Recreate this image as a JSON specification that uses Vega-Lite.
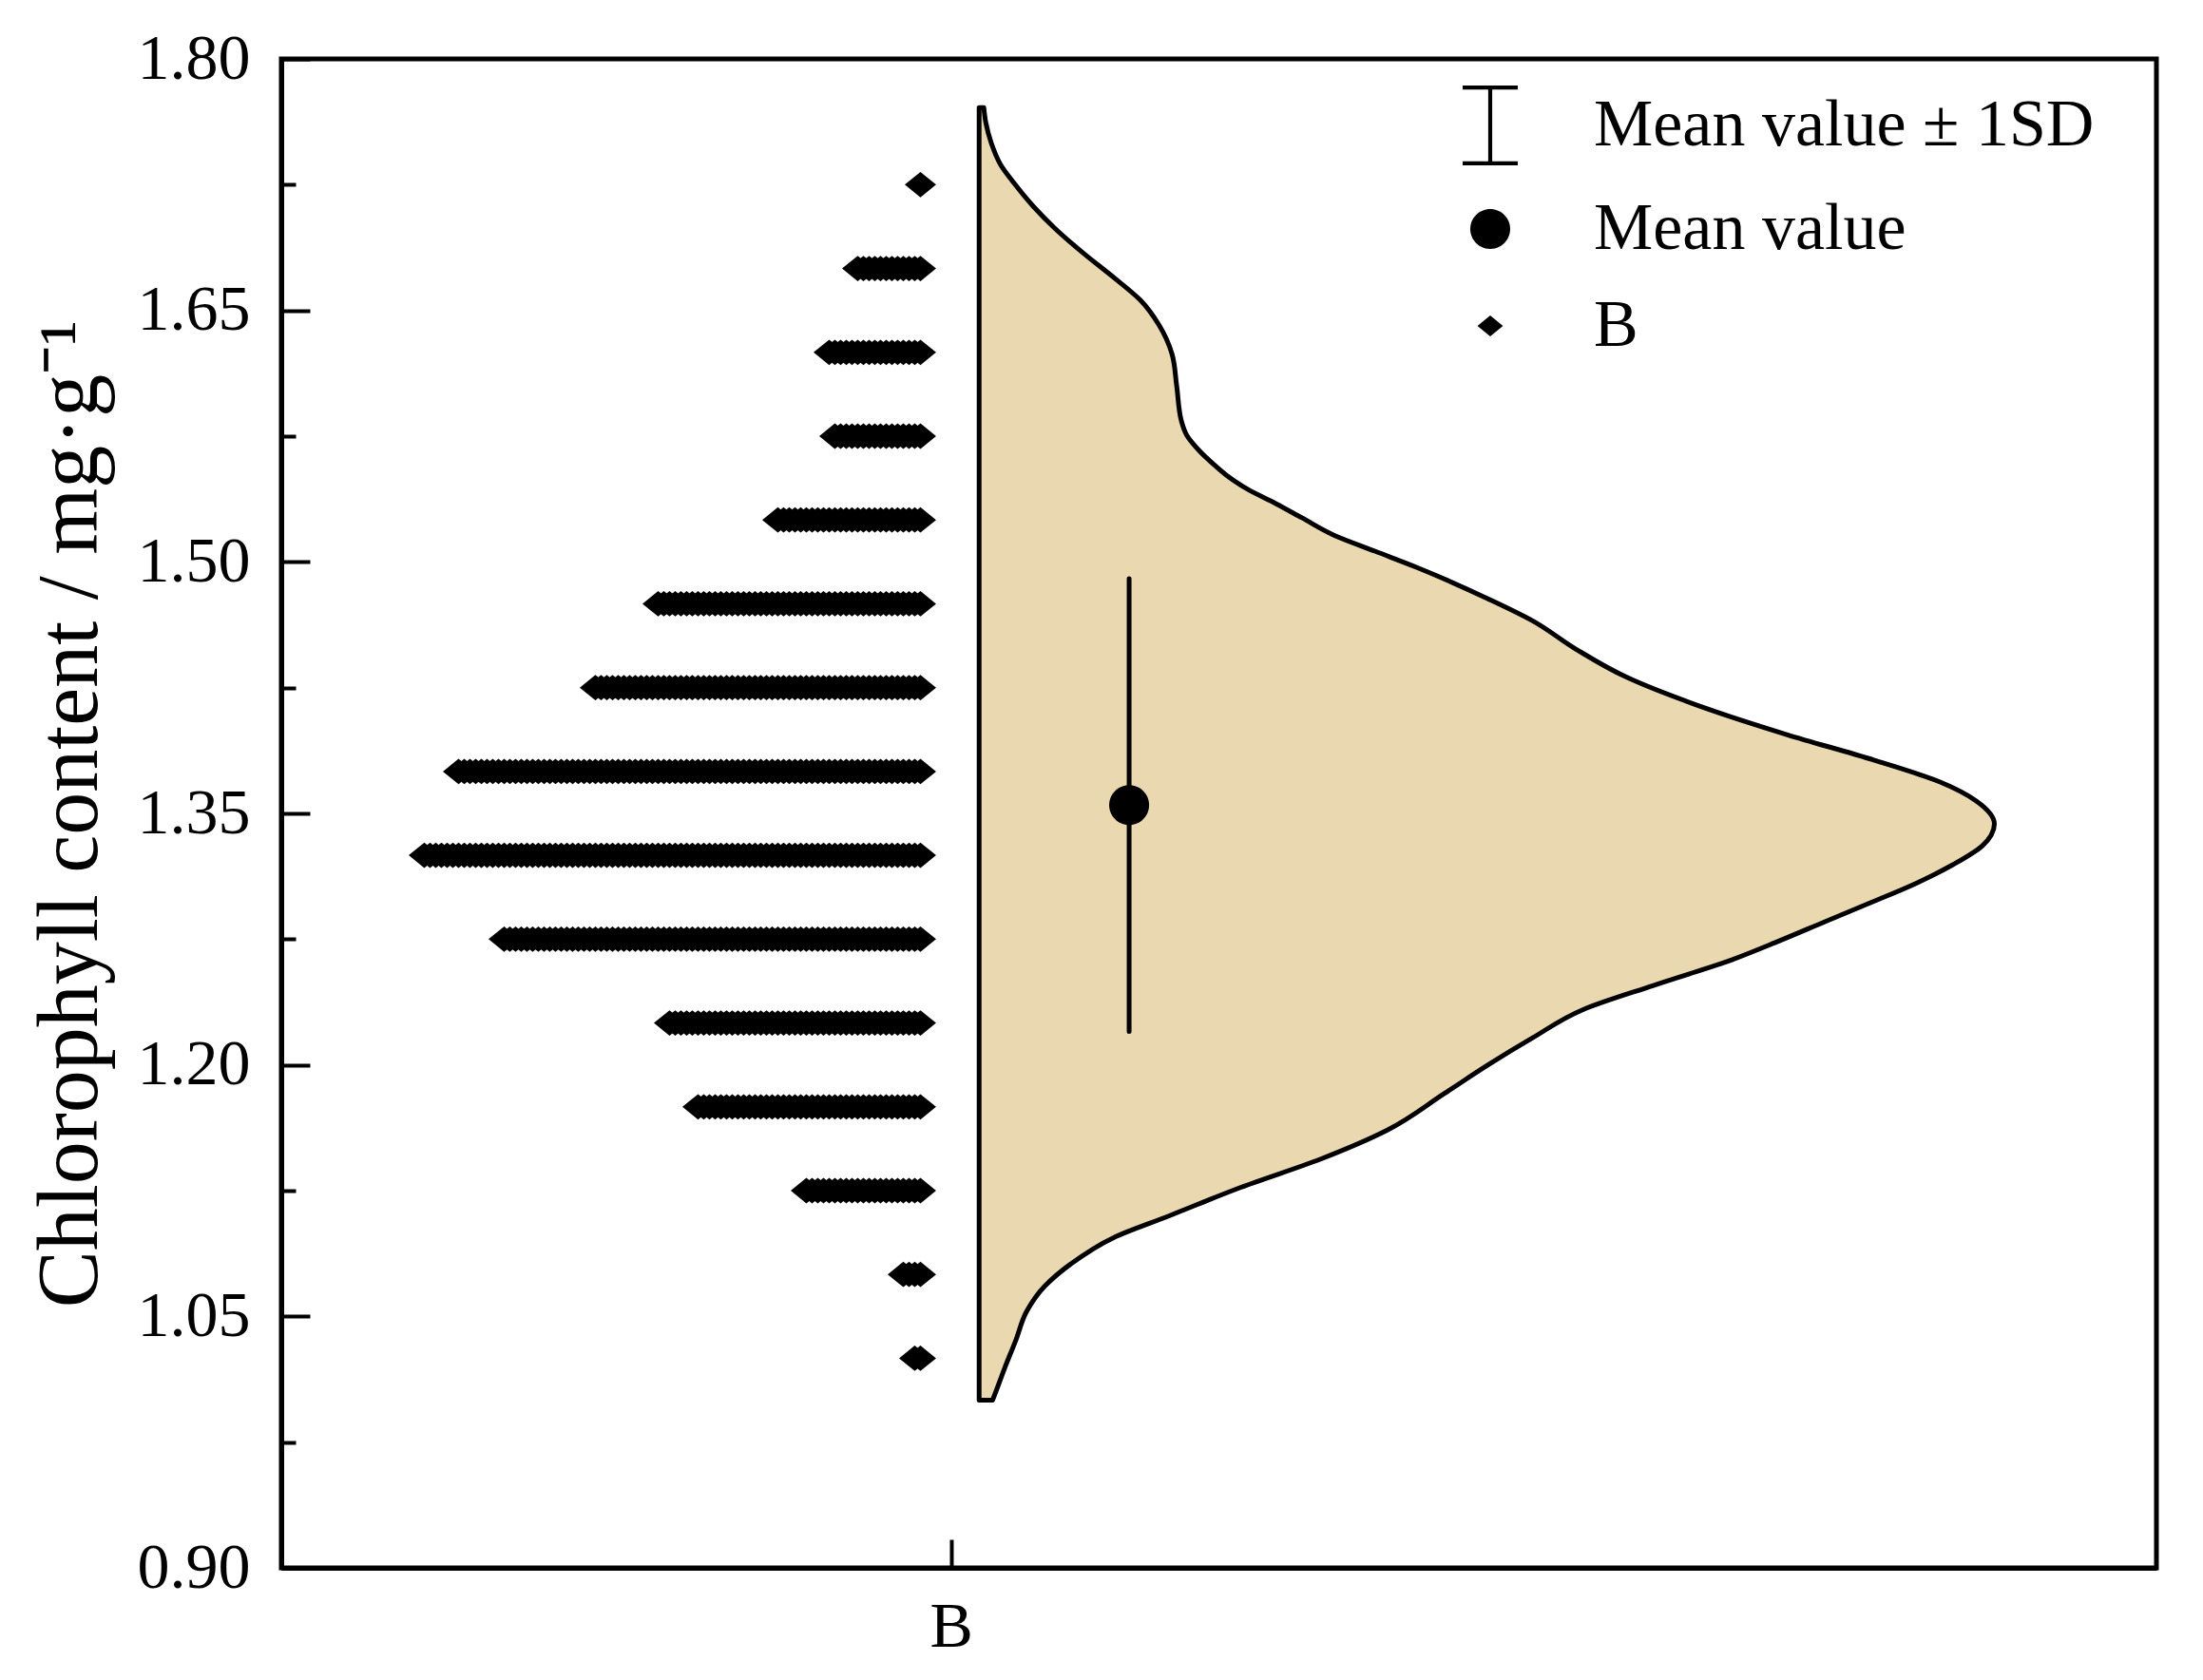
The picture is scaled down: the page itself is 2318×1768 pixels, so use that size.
{
  "$schema": "https://vega.github.io/schema/vega-lite/v6.json",
  "width": 1973,
  "height": 1588,
  "autosize": "none",
  "padding": {"left": 296, "top": 62, "right": 49, "bottom": 118},
  "background": "white",
  "config": {
    "font": "Liberation Serif",
    "view": {"stroke": "black", "strokeWidth": 5},
    "axis": {
      "domainColor": "black", "domainWidth": 5, "tickColor": "black", "tickWidth": 4,
      "labelColor": "black", "titleColor": "black", "labelFont": "Liberation Serif",
      "titleFont": "Liberation Serif", "labelFontSize": 68, "grid": false, "titleFontWeight": "normal"
    }
  },
  "resolve": {"scale": {"x": "independent", "y": "independent"}, "axis": {"x": "independent", "y": "independent"}},
  "layer": [
    {
      "data": {"values": [
        {"v":1.000,"x":1.062},{"v":1.002,"x":1.064},{"v":1.019,"x":1.080},{"v":1.036,"x":1.097},
        {"v":1.053,"x":1.113},{"v":1.068,"x":1.140},{"v":1.081,"x":1.178},{"v":1.097,"x":1.243},
        {"v":1.110,"x":1.326},{"v":1.127,"x":1.433},{"v":1.144,"x":1.553},{"v":1.161,"x":1.651},
        {"v":1.183,"x":1.737},{"v":1.200,"x":1.802},{"v":1.216,"x":1.868},{"v":1.233,"x":1.944},
        {"v":1.2474,"x":2.049},{"v":1.2627,"x":2.166},{"v":1.2740,"x":2.237},{"v":1.2854,"x":2.305},
        {"v":1.2967,"x":2.373},{"v":1.3081,"x":2.440},{"v":1.3194,"x":2.496},{"v":1.3307,"x":2.540},
        {"v":1.3438,"x":2.558},{"v":1.3574,"x":2.531},{"v":1.3687,"x":2.477},{"v":1.3817,"x":2.379},
        {"v":1.397,"x":2.248},{"v":1.414,"x":2.118},{"v":1.431,"x":2.010},{"v":1.448,"x":1.933},
        {"v":1.465,"x":1.868},{"v":1.478,"x":1.802},{"v":1.4968,"x":1.695},{"v":1.5064,"x":1.633},
        {"v":1.5161,"x":1.571},{"v":1.5263,"x":1.524},{"v":1.5348,"x":1.485},{"v":1.5433,"x":1.443},
        {"v":1.5518,"x":1.411},{"v":1.5586,"x":1.391},{"v":1.5671,"x":1.369},{"v":1.5756,"x":1.352},
        {"v":1.5841,"x":1.344},{"v":1.605,"x":1.337},{"v":1.624,"x":1.330},{"v":1.641,"x":1.311},
        {"v":1.656,"x":1.283},{"v":1.669,"x":1.245},{"v":1.684,"x":1.198},{"v":1.699,"x":1.155},
        {"v":1.712,"x":1.123},{"v":1.726,"x":1.094},{"v":1.737,"x":1.074},{"v":1.750,"x":1.060},
        {"v":1.762,"x":1.052},{"v":1.771,"x":1.049}
      ]},
      "mark": {"type": "area", "orient": "horizontal", "fill": "#EAD8B1", "stroke": "black", "strokeWidth": 5, "interpolate": "monotone", "strokeJoin": "round"},
      "encoding": {
        "y": {"field": "v", "type": "quantitative", "scale": {"domain": [0.9, 1.8], "nice": false, "zero": false},
          "axis": {"orient": "left", "values": [0.9, 1.05, 1.2, 1.35, 1.5, 1.65, 1.8], "format": ".2f", "tickSize": -30, "labelPadding": 63,
            "title": "Chlorophyll content / mg·g⁻¹", "titleFontSize": 90, "titlePadding": 24}},
        "x": {"field": "x", "type": "quantitative", "scale": {"domain": [0, 2.8], "nice": false, "zero": false},
          "axis": {"orient": "bottom", "values": [1], "labelExpr": "'B'", "tickSize": -30, "labelPadding": 58, "title": null}},
        "x2": {"datum": 1.042}
      }
    },
    {
      "data": {"values": [
        {"v":1.025},{"v":1.025},
        {"v":1.075},{"v":1.075},{"v":1.075},{"v":1.075},
        {"v":1.125},{"v":1.125},{"v":1.125},{"v":1.125},{"v":1.125},{"v":1.125},{"v":1.125},{"v":1.125},{"v":1.125},{"v":1.125},
        {"v":1.125},{"v":1.125},{"v":1.125},{"v":1.125},{"v":1.125},{"v":1.125},{"v":1.125},{"v":1.125},{"v":1.125},{"v":1.125},
        {"v":1.125},
        {"v":1.175},{"v":1.175},{"v":1.175},{"v":1.175},{"v":1.175},{"v":1.175},{"v":1.175},{"v":1.175},{"v":1.175},{"v":1.175},
        {"v":1.175},{"v":1.175},{"v":1.175},{"v":1.175},{"v":1.175},{"v":1.175},{"v":1.175},{"v":1.175},{"v":1.175},{"v":1.175},
        {"v":1.175},{"v":1.175},{"v":1.175},{"v":1.175},{"v":1.175},{"v":1.175},{"v":1.175},{"v":1.175},{"v":1.175},{"v":1.175},
        {"v":1.175},{"v":1.175},{"v":1.175},{"v":1.175},{"v":1.175},{"v":1.175},{"v":1.175},{"v":1.175},{"v":1.175},{"v":1.175},
        {"v":1.225},{"v":1.225},{"v":1.225},{"v":1.225},{"v":1.225},{"v":1.225},{"v":1.225},{"v":1.225},{"v":1.225},{"v":1.225},
        {"v":1.225},{"v":1.225},{"v":1.225},{"v":1.225},{"v":1.225},{"v":1.225},{"v":1.225},{"v":1.225},{"v":1.225},{"v":1.225},
        {"v":1.225},{"v":1.225},{"v":1.225},{"v":1.225},{"v":1.225},{"v":1.225},{"v":1.225},{"v":1.225},{"v":1.225},{"v":1.225},
        {"v":1.225},{"v":1.225},{"v":1.225},{"v":1.225},{"v":1.225},{"v":1.225},{"v":1.225},{"v":1.225},{"v":1.225},{"v":1.225},
        {"v":1.225},{"v":1.225},{"v":1.225},{"v":1.225},{"v":1.225},
        {"v":1.275},{"v":1.275},{"v":1.275},{"v":1.275},{"v":1.275},{"v":1.275},{"v":1.275},{"v":1.275},{"v":1.275},{"v":1.275},
        {"v":1.275},{"v":1.275},{"v":1.275},{"v":1.275},{"v":1.275},{"v":1.275},{"v":1.275},{"v":1.275},{"v":1.275},{"v":1.275},
        {"v":1.275},{"v":1.275},{"v":1.275},{"v":1.275},{"v":1.275},{"v":1.275},{"v":1.275},{"v":1.275},{"v":1.275},{"v":1.275},
        {"v":1.275},{"v":1.275},{"v":1.275},{"v":1.275},{"v":1.275},{"v":1.275},{"v":1.275},{"v":1.275},{"v":1.275},{"v":1.275},
        {"v":1.275},{"v":1.275},{"v":1.275},{"v":1.275},{"v":1.275},{"v":1.275},{"v":1.275},{"v":1.275},{"v":1.275},{"v":1.275},
        {"v":1.275},{"v":1.275},{"v":1.275},{"v":1.275},{"v":1.275},{"v":1.275},{"v":1.275},{"v":1.275},{"v":1.275},{"v":1.275},
        {"v":1.275},{"v":1.275},{"v":1.275},{"v":1.275},{"v":1.275},{"v":1.275},{"v":1.275},{"v":1.275},{"v":1.275},{"v":1.275},
        {"v":1.275},{"v":1.275},{"v":1.275},{"v":1.275},
        {"v":1.325},{"v":1.325},{"v":1.325},{"v":1.325},{"v":1.325},{"v":1.325},{"v":1.325},{"v":1.325},{"v":1.325},{"v":1.325},
        {"v":1.325},{"v":1.325},{"v":1.325},{"v":1.325},{"v":1.325},{"v":1.325},{"v":1.325},{"v":1.325},{"v":1.325},{"v":1.325},
        {"v":1.325},{"v":1.325},{"v":1.325},{"v":1.325},{"v":1.325},{"v":1.325},{"v":1.325},{"v":1.325},{"v":1.325},{"v":1.325},
        {"v":1.325},{"v":1.325},{"v":1.325},{"v":1.325},{"v":1.325},{"v":1.325},{"v":1.325},{"v":1.325},{"v":1.325},{"v":1.325},
        {"v":1.325},{"v":1.325},{"v":1.325},{"v":1.325},{"v":1.325},{"v":1.325},{"v":1.325},{"v":1.325},{"v":1.325},{"v":1.325},
        {"v":1.325},{"v":1.325},{"v":1.325},{"v":1.325},{"v":1.325},{"v":1.325},{"v":1.325},{"v":1.325},{"v":1.325},{"v":1.325},
        {"v":1.325},{"v":1.325},{"v":1.325},{"v":1.325},{"v":1.325},{"v":1.325},{"v":1.325},{"v":1.325},{"v":1.325},{"v":1.325},
        {"v":1.325},{"v":1.325},{"v":1.325},{"v":1.325},{"v":1.325},{"v":1.325},{"v":1.325},{"v":1.325},{"v":1.325},{"v":1.325},
        {"v":1.325},{"v":1.325},{"v":1.325},{"v":1.325},{"v":1.325},{"v":1.325},{"v":1.325},{"v":1.325},
        {"v":1.375},{"v":1.375},{"v":1.375},{"v":1.375},{"v":1.375},{"v":1.375},{"v":1.375},{"v":1.375},{"v":1.375},{"v":1.375},
        {"v":1.375},{"v":1.375},{"v":1.375},{"v":1.375},{"v":1.375},{"v":1.375},{"v":1.375},{"v":1.375},{"v":1.375},{"v":1.375},
        {"v":1.375},{"v":1.375},{"v":1.375},{"v":1.375},{"v":1.375},{"v":1.375},{"v":1.375},{"v":1.375},{"v":1.375},{"v":1.375},
        {"v":1.375},{"v":1.375},{"v":1.375},{"v":1.375},{"v":1.375},{"v":1.375},{"v":1.375},{"v":1.375},{"v":1.375},{"v":1.375},
        {"v":1.375},{"v":1.375},{"v":1.375},{"v":1.375},{"v":1.375},{"v":1.375},{"v":1.375},{"v":1.375},{"v":1.375},{"v":1.375},
        {"v":1.375},{"v":1.375},{"v":1.375},{"v":1.375},{"v":1.375},{"v":1.375},{"v":1.375},{"v":1.375},{"v":1.375},{"v":1.375},
        {"v":1.375},{"v":1.375},{"v":1.375},{"v":1.375},{"v":1.375},{"v":1.375},{"v":1.375},{"v":1.375},{"v":1.375},{"v":1.375},
        {"v":1.375},{"v":1.375},{"v":1.375},{"v":1.375},{"v":1.375},{"v":1.375},{"v":1.375},{"v":1.375},{"v":1.375},{"v":1.375},
        {"v":1.375},{"v":1.375},
        {"v":1.425},{"v":1.425},{"v":1.425},{"v":1.425},{"v":1.425},{"v":1.425},{"v":1.425},{"v":1.425},{"v":1.425},{"v":1.425},
        {"v":1.425},{"v":1.425},{"v":1.425},{"v":1.425},{"v":1.425},{"v":1.425},{"v":1.425},{"v":1.425},{"v":1.425},{"v":1.425},
        {"v":1.425},{"v":1.425},{"v":1.425},{"v":1.425},{"v":1.425},{"v":1.425},{"v":1.425},{"v":1.425},{"v":1.425},{"v":1.425},
        {"v":1.425},{"v":1.425},{"v":1.425},{"v":1.425},{"v":1.425},{"v":1.425},{"v":1.425},{"v":1.425},{"v":1.425},{"v":1.425},
        {"v":1.425},{"v":1.425},{"v":1.425},{"v":1.425},{"v":1.425},{"v":1.425},{"v":1.425},{"v":1.425},{"v":1.425},{"v":1.425},
        {"v":1.425},{"v":1.425},{"v":1.425},{"v":1.425},{"v":1.425},{"v":1.425},{"v":1.425},{"v":1.425},
        {"v":1.475},{"v":1.475},{"v":1.475},{"v":1.475},{"v":1.475},{"v":1.475},{"v":1.475},{"v":1.475},{"v":1.475},{"v":1.475},
        {"v":1.475},{"v":1.475},{"v":1.475},{"v":1.475},{"v":1.475},{"v":1.475},{"v":1.475},{"v":1.475},{"v":1.475},{"v":1.475},
        {"v":1.475},{"v":1.475},{"v":1.475},{"v":1.475},{"v":1.475},{"v":1.475},{"v":1.475},{"v":1.475},{"v":1.475},{"v":1.475},
        {"v":1.475},{"v":1.475},{"v":1.475},{"v":1.475},{"v":1.475},{"v":1.475},{"v":1.475},{"v":1.475},{"v":1.475},{"v":1.475},
        {"v":1.475},{"v":1.475},{"v":1.475},{"v":1.475},{"v":1.475},{"v":1.475},{"v":1.475},
        {"v":1.525},{"v":1.525},{"v":1.525},{"v":1.525},{"v":1.525},{"v":1.525},{"v":1.525},{"v":1.525},{"v":1.525},{"v":1.525},
        {"v":1.525},{"v":1.525},{"v":1.525},{"v":1.525},{"v":1.525},{"v":1.525},{"v":1.525},{"v":1.525},{"v":1.525},{"v":1.525},
        {"v":1.525},{"v":1.525},{"v":1.525},{"v":1.525},{"v":1.525},{"v":1.525},
        {"v":1.575},{"v":1.575},{"v":1.575},{"v":1.575},{"v":1.575},{"v":1.575},{"v":1.575},{"v":1.575},{"v":1.575},{"v":1.575},
        {"v":1.575},{"v":1.575},{"v":1.575},{"v":1.575},{"v":1.575},{"v":1.575},
        {"v":1.625},{"v":1.625},{"v":1.625},{"v":1.625},{"v":1.625},{"v":1.625},{"v":1.625},{"v":1.625},{"v":1.625},{"v":1.625},
        {"v":1.625},{"v":1.625},{"v":1.625},{"v":1.625},{"v":1.625},{"v":1.625},{"v":1.625},
        {"v":1.675},{"v":1.675},{"v":1.675},{"v":1.675},{"v":1.675},{"v":1.675},{"v":1.675},{"v":1.675},{"v":1.675},{"v":1.675},
        {"v":1.675},{"v":1.675},
        {"v":1.725}
      ]},
      "transform": [{"window": [{"op": "row_number", "as": "k"}], "groupby": ["v"]}],
      "mark": {"type": "point", "filled": true, "color": "black", "opacity": 1, "strokeWidth": 0},
      "encoding": {
        "y": {"field": "v", "type": "quantitative", "scale": {"domain": [0.9, 1.8], "nice": false, "zero": false},
          "axis": {"orient": "left", "values": [0.975, 1.125, 1.275, 1.425, 1.575, 1.725], "labels": false, "domain": false, "tickSize": -15, "title": null}},
        "x": {"field": "k", "type": "quantitative", "scale": {"domain": [-215.75, 113.08], "reverse": true, "nice": false, "zero": false}, "axis": null},
        "shape": {"datum": "B", "type": "nominal",
          "scale": {"domain": ["Mean value ± 1SD", "Mean value", "B"],
            "range": ["M-0.69,-1H0.69V-0.9H0.05V0.9H0.69V1H-0.69V0.9H-0.05V-0.9H-0.69Z",
                      "M0.5,0A0.5,0.5,0,1,1,-0.5,0A0.5,0.5,0,1,1,0.5,0Z",
                      "M-0.32,0L0,-0.26L0.32,0L0,0.26Z"]},
          "legend": {"title": null, "orient": "none", "legendX": 1230, "legendY": 28, "symbolSize": 7056,
            "symbolFillColor": "black", "symbolStrokeWidth": 0, "symbolOpacity": 1,
            "labelFont": "Liberation Serif", "labelFontSize": 70, "labelColor": "black", "labelLimit": 0,
            "rowPadding": 25, "labelOffset": 67, "padding": 0}},
        "size": {"value": 10609}
      }
    },
    {
      "data": {"values": [{"group": "B", "mean": 1.355, "sd_low": 1.22, "sd_high": 1.49}]},
      "mark": {"type": "rule", "strokeWidth": 5, "color": "black", "strokeCap": "round"},
      "encoding": {
        "x": {"datum": 1.266, "type": "quantitative", "scale": {"domain": [0, 2.8], "nice": false, "zero": false}, "axis": null},
        "y": {"field": "sd_low", "type": "quantitative", "scale": {"domain": [0.9, 1.8], "nice": false, "zero": false}, "axis": null},
        "y2": {"field": "sd_high"}
      }
    },
    {
      "data": {"values": [{"group": "B", "mean": 1.355, "sd_low": 1.22, "sd_high": 1.49}]},
      "mark": {"type": "point", "filled": true, "color": "black", "opacity": 1, "strokeWidth": 0},
      "encoding": {
        "x": {"datum": 1.266, "type": "quantitative", "scale": {"domain": [0, 2.8], "nice": false, "zero": false}, "axis": null},
        "y": {"field": "mean", "type": "quantitative", "scale": {"domain": [0.9, 1.8], "nice": false, "zero": false}, "axis": null},
        "shape": {"datum": "Mean value", "type": "nominal"},
        "size": {"value": 7056}
      }
    }
  ]
}
